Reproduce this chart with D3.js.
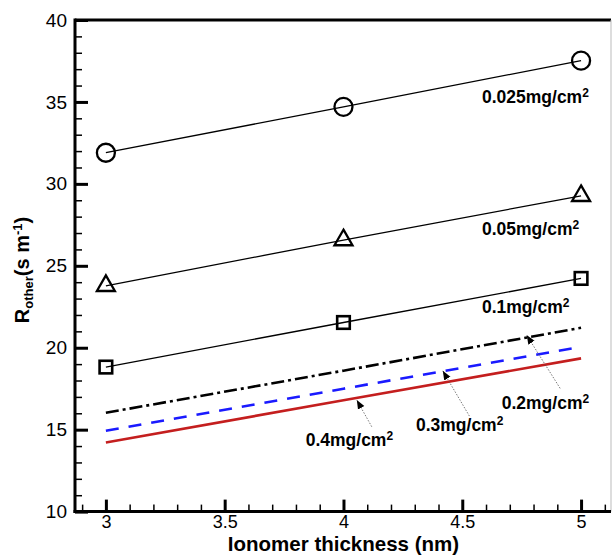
<!DOCTYPE html>
<html><head><meta charset="utf-8">
<script src="https://cdn.jsdelivr.net/npm/d3@7"></script>
<style>body{margin:0;background:#fff}svg{display:block}text{font-family:"Liberation Sans",Arial,sans-serif}</style>
</head><body>
<script>
// ---- data ----
const thickness = [3, 4, 5];
const seriesNames = ["0.025mg/cm", "0.05mg/cm", "0.1mg/cm", "0.2mg/cm", "0.3mg/cm", "0.4mg/cm"];
const r025 = [31.9, 34.7, 37.52];
const r05 = [23.78, 26.57, 29.27];
const r1 = [18.82, 21.54, 24.23];
const r2 = [16.03, 18.6, 21.22];
const r3 = [14.93, 17.5, 20.06];
const r4 = [14.22, 16.79, 19.35];
const yTicks = [10, 15, 20, 25, 30, 35, 40];
const xTicks = [3, 3.5, 4, 4.5, 5];
// label anchor positions (data units) and arrows (tail -> tip)
const labelPos = [[4.583, 34.92], [4.583, 26.88], [4.583, 22.12], [4.666, 16.24], [4.305, 14.91], [3.841, 14.0]];
const arrows = [[[4.912, 17.52], [4.771, 20.77]], [[4.530, 15.83], [4.418, 18.59]], [[4.119, 15.18], [4.056, 16.81]]];

const W = 612, H = 556;
const svg = d3.select("body").append("svg").attr("width", W).attr("height", H);
const x = d3.scaleLinear().domain([2.87, 5.126]).range([75, 611]);
const y = d3.scaleLinear().domain([10, 40]).range([511.6, 20]);

svg.append("defs").append("marker").attr("id", "ah").attr("viewBox", "0 0 10 10")
  .attr("refX", 10).attr("refY", 5).attr("markerWidth", 9).attr("markerHeight", 9)
  .attr("markerUnits", "userSpaceOnUse").attr("orient", "auto")
  .append("path").attr("d", "M0,1 L10,5 L0,9 Z").attr("fill", "#000");

// frame
svg.append("line").attr("x1", 75).attr("x2", 611).attr("y1", 20).attr("y2", 20).attr("stroke", "#000").attr("stroke-width", 3);
svg.append("line").attr("x1", 611).attr("x2", 611).attr("y1", 20).attr("y2", 511.6).attr("stroke", "#bbb").attr("stroke-width", 1);

// minor ticks
const yMinor = d3.range(11, 40, 1).filter(v => v % 5 !== 0);
const xMinor = d3.range(29, 52, 1).map(v => v / 10).filter(v => Math.abs(v * 2 - Math.round(v * 2)) > 1e-6);
const gy2 = svg.append("g").attr("transform", "translate(75,0)")
  .call(d3.axisLeft(y).tickValues(yMinor).tickSize(-7).tickFormat(""));
gy2.selectAll("line").attr("stroke-width", 1.5);
const gx2 = svg.append("g").attr("transform", "translate(0,511.6)")
  .call(d3.axisBottom(x).tickValues(xMinor).tickSize(-7).tickFormat(""));
gx2.selectAll("line").attr("stroke-width", 1.5);
[gy2, gx2].forEach(g => g.select(".domain").remove());

// major axes
const gy = svg.append("g").attr("transform", "translate(75,0)")
  .call(d3.axisLeft(y).tickValues(yTicks).tickSize(-13).tickPadding(8).tickFormat(d3.format("d")));
gy.selectAll("line").attr("stroke-width", 3);
gy.selectAll("text").attr("font-size", 19).attr("fill", "#000").style("font-family", '"Liberation Sans",Arial,sans-serif');
const gx = svg.append("g").attr("transform", "translate(0,511.6)")
  .call(d3.axisBottom(x).tickValues(xTicks).tickSize(-12).tickPadding(4).tickFormat(d => d));
gx.selectAll("line").attr("stroke-width", 3);
gx.selectAll("text").attr("font-size", 18).attr("fill", "#000").style("font-family", '"Liberation Sans",Arial,sans-serif');
[gy, gx].forEach(g => g.select(".domain").remove());
svg.append("line").attr("x1", 75).attr("x2", 75).attr("y1", 18.5).attr("y2", 513).attr("stroke", "#000").attr("stroke-width", 3);
svg.append("line").attr("x1", 73.5).attr("x2", 611).attr("y1", 511.6).attr("y2", 511.6).attr("stroke", "#000").attr("stroke-width", 3);

// lines
const line = d3.line().x((d, i) => x(thickness[i])).y(d => y(d));
const styles = [
  {data: r2, color: "#000", width: 2.6, dash: "13,4,3,4"},
  {data: r3, color: "#1a1aff", width: 2.6, dash: "13,10"},
  {data: r4, color: "#c41e1e", width: 2.6, dash: null},
];
styles.forEach(s => {
  svg.append("path").attr("d", line(s.data)).attr("fill", "none").attr("stroke", s.color)
    .attr("stroke-width", s.width).attr("stroke-dasharray", s.dash);
});
[r025, r05, r1].forEach(d => {
  svg.append("path").attr("d", line(d)).attr("fill", "none").attr("stroke", "#000").attr("stroke-width", 1.3);
});
// markers
svg.selectAll(".c").data(r025).enter().append("circle")
  .attr("cx", (d, i) => x(thickness[i])).attr("cy", d => y(d)).attr("r", 9)
  .attr("fill", "none").attr("stroke", "#000").attr("stroke-width", 2.3);
const tri = d3.symbol().type(d3.symbolTriangle).size(140);
svg.selectAll(".t").data(r05).enter().append("path")
  .attr("d", tri).attr("transform", (d, i) => `translate(${x(thickness[i])},${y(d)})`)
  .attr("fill", "none").attr("stroke", "#000").attr("stroke-width", 2.3);
svg.selectAll(".s").data(r1).enter().append("rect")
  .attr("x", (d, i) => x(thickness[i]) - 6.3).attr("y", d => y(d) - 6.3).attr("width", 12.6).attr("height", 12.6)
  .attr("fill", "none").attr("stroke", "#000").attr("stroke-width", 2.6);

// arrows
arrows.forEach(a => {
  svg.append("line").attr("x1", x(a[0][0])).attr("y1", y(a[0][1])).attr("x2", x(a[1][0])).attr("y2", y(a[1][1]))
    .attr("stroke", "#555").attr("stroke-width", 0.8).attr("stroke-dasharray", "1.5,1.5")
    .attr("marker-end", "url(#ah)");
});

// labels
seriesNames.forEach((n, i) => {
  const t = svg.append("text").attr("x", x(labelPos[i][0])).attr("y", y(labelPos[i][1]))
    .attr("font-size", 17.5).attr("font-weight", "bold").attr("fill", "#000");
  t.append("tspan").text(n);
  t.append("tspan").attr("font-size", 12).attr("dy", -6).text("2");
});

// axis titles
const xt = svg.append("text").attr("x", x(4)).attr("y", 551).attr("text-anchor", "middle")
  .attr("font-size", 20.5).attr("font-weight", "bold").text("Ionomer thickness (nm)");
const yt = svg.append("text").attr("transform", "translate(29,270) rotate(-90)").attr("text-anchor", "middle")
  .attr("font-size", 20).attr("font-weight", "bold");
yt.append("tspan").text("R");
yt.append("tspan").attr("font-size", 13).attr("dy", 4).text("other");
yt.append("tspan").attr("dy", -4).text("(s m");
yt.append("tspan").attr("font-size", 13).attr("dy", -7).text("-1");
yt.append("tspan").attr("dy", 7).text(")");
</script>
</body></html>
